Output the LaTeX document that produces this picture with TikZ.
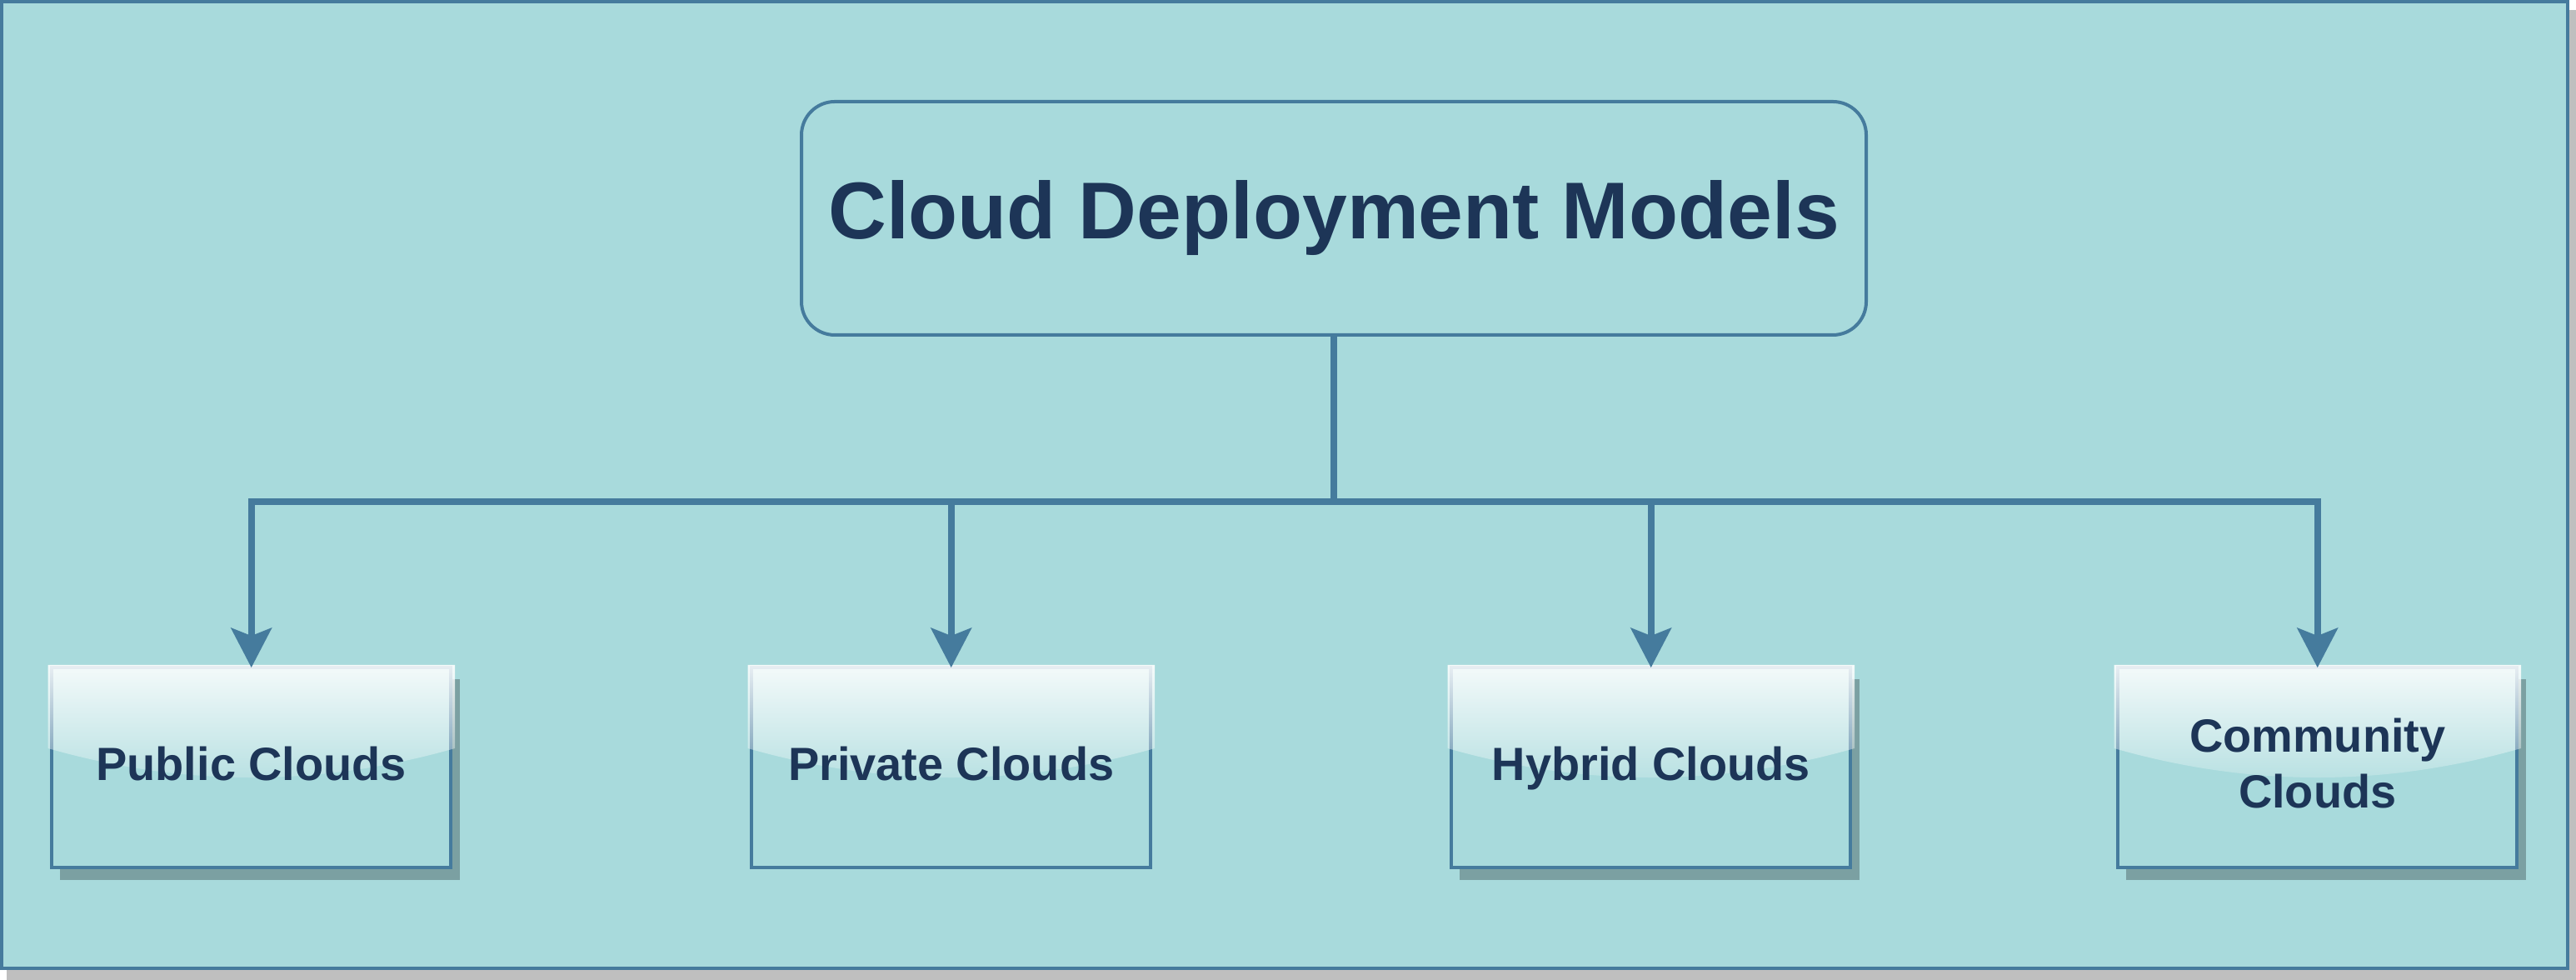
\documentclass[tikz,border=0pt]{standalone}
\usepackage{fontspec}
\setmainfont{Liberation Sans}
\usetikzlibrary{arrows.meta, positioning, calc, fadings, backgrounds}

\definecolor{panel}{HTML}{A8DADC}
\definecolor{edge}{HTML}{457B9D}
\definecolor{ink}{HTML}{1D3557}
\definecolor{pageshadow}{HTML}{BFBFBF}
\definecolor{boxshadow}{HTML}{7BA0A2}

\tikzfading[name=glossfade, top color=transparent!12, bottom color=transparent!85]

\tikzset{
    headbox/.style={draw=edge, fill=panel, line width=0.04cm, rounded corners=0.4cm,
        minimum width=12.78cm, minimum height=2.8cm, text=ink,
        font=\fontsize{27.5pt}{33pt}\selectfont\bfseries},
    modelbox/.style={minimum width=4.79cm, minimum height=2.4cm, outer sep=0pt,
        inner sep=0pt, text=ink, align=center, text depth=0.1cm,
        font=\fontsize{15.9pt}{19.1pt}\selectfont\bfseries},
    boxface/.style={draw=edge, fill=panel, line width=0.04cm},
    link/.style={draw=edge, line width=0.08cm,
        -{Stealth[length=0.48cm, width=0.5cm, inset=0.1cm, line width=0pt]}},
}

\begin{document}
\begin{tikzpicture}
    \useasboundingbox (0,0) rectangle (30.92,11.76);

    % Title
    \node[headbox] (models) at (16.01,9.14) {Cloud Deployment Models};

    % Deployment models
    \node[modelbox] (public) at (3.017,2.55) {Public Clouds};
    \node[modelbox, right=3.61cm of public] (private) {Private Clouds};
    \node[modelbox, right=3.61cm of private] (hybrid) {Hybrid Clouds};
    \node[modelbox, right=3.21cm of hybrid] (community) {Community\\Clouds};

    \begin{scope}[on background layer]
        % Frame
        \fill[pageshadow] (0.08,0) rectangle (30.92,11.64);
        \draw[edge, fill=panel, line width=0.04cm] (0.02,0.14) rectangle (30.82,11.74);

        % Shadows (none under the private box)
        \foreach \n in {public, hybrid, community}
            \fill[boxshadow] ($(\n.south west)+(0.1,-0.15)$) rectangle ($(\n.north east)+(0.11,-0.14)$);

        % Boxes with gloss
        \foreach \n in {public, private, hybrid, community} {
            \draw[boxface] (\n.south west) rectangle (\n.north east);
            \fill[white, path fading=glossfade]
                ($(\n.north west)+(-0.047,0.03)$) -- ($(\n.north east)+(0.047,0.03)$)
                -- ($(\n.north east)+(0.047,-0.97)$)
                .. controls ($(\n.north)+(0.81,-1.437)$) and ($(\n.north)+(-0.81,-1.437)$)
                .. ($(\n.north west)+(-0.047,-0.97)$) -- cycle;
        }
    \end{scope}

    % Connectors
    \coordinate (bus) at (16.01,5.74);
    \foreach \n in {public, private, hybrid, community}
        \draw[link] (models.south) -- (bus) -| (\n.north);
\end{tikzpicture}
\end{document}
